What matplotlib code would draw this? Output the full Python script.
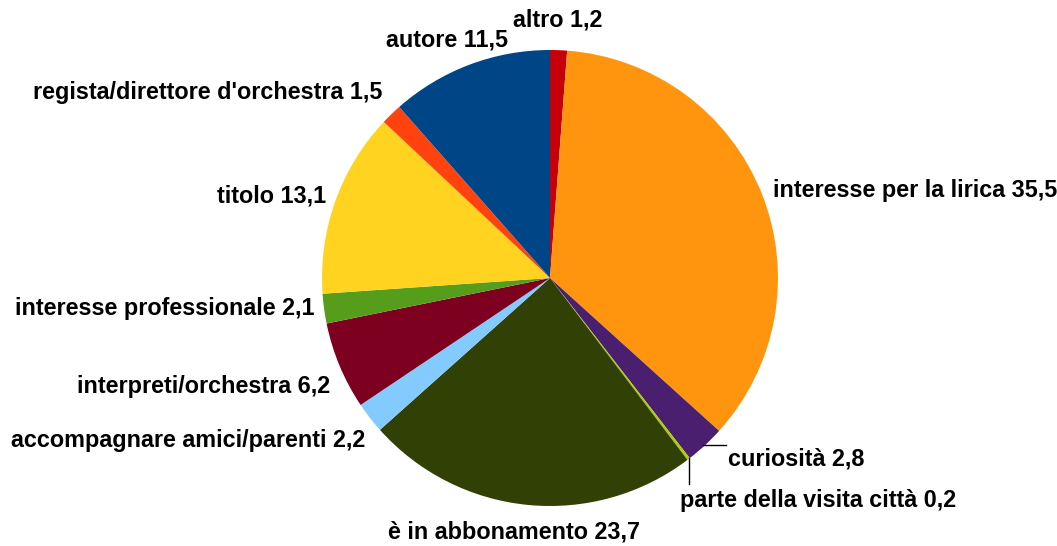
import matplotlib
matplotlib.use("Agg")
import matplotlib.pyplot as plt
from matplotlib import font_manager

categories = ["altro", "interesse per la lirica", "curiosità", "parte della visita città",
              "è in abbonamento", "accompagnare amici/parenti", "interpreti/orchestra",
              "interesse professionale", "titolo", "regista/direttore d'orchestra", "autore"]
values = [1.2, 35.5, 2.8, 0.2, 23.7, 2.2, 6.2, 2.1, 13.1, 1.5, 11.5]
colors = ["#C5000B", "#FF950E", "#4B1F6F", "#AECF00", "#314004", "#83CAFF", "#7E0021",
          "#579D1C", "#FFD320", "#FF420E", "#004586"]

W, H = 1057, 546
cx, cy, R = 550, 278, 228
label_px = [(513, 20), (773, 190), (728, 459), (680, 500), (388, 532), (11, 440),
            (77, 387), (15, 308), (217, 196), (33, 92), (386, 40)]

names = {f.name for f in font_manager.fontManager.ttflist}
fam = "Liberation Sans Narrow" if "Liberation Sans Narrow" in names else "Liberation Sans"
fs = 20.1 if fam == "Liberation Sans Narrow" else 16.8

fig = plt.figure(figsize=(W / 100, H / 100), dpi=100)
ax = fig.add_axes([(cx - R) / W, (H - cy - R) / H, 2 * R / W, 2 * R / H])
ax.pie(values, colors=colors, startangle=90, counterclock=False,
       wedgeprops=dict(linewidth=0), radius=1)
ax.set_xlim(-1, 1)
ax.set_ylim(-1, 1)
ax.set_aspect("equal")
ax.axis("off")

for cat, val, (px, py) in zip(categories, values, label_px):
    txt = f"{cat} {val:.1f}".replace(".", ",")
    fig.text(px / W, 1 - py / H, txt, ha="left", va="center",
             fontsize=fs, fontweight="bold", family=fam, color="#000000")

def pline(xs, ys):
    fig.add_artist(plt.Line2D([x / W for x in xs], [1 - y / H for y in ys],
                              color="#000000", linewidth=1))

pline([703, 726], [445, 445])
pline([689, 689], [458, 484])

fig.savefig("out.png", dpi=100)
